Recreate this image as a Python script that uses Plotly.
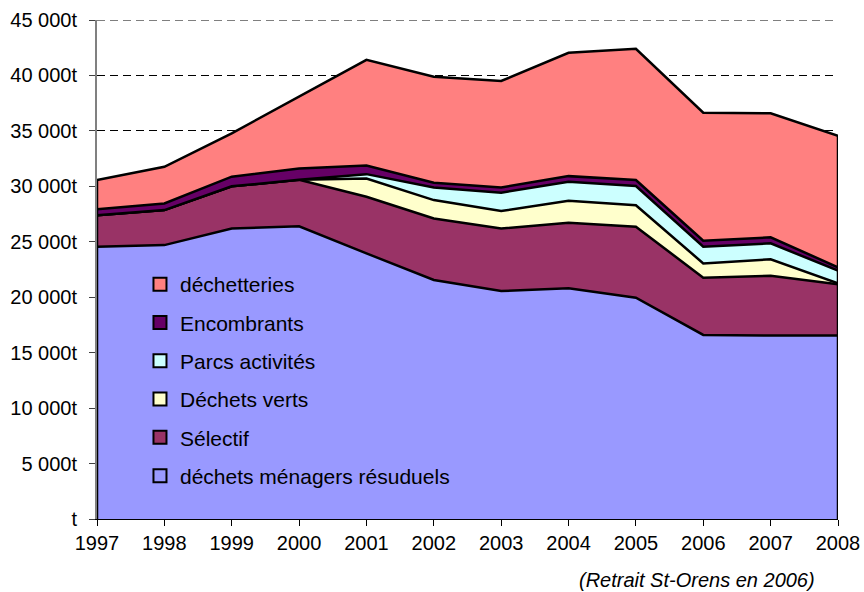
import plotly.graph_objects as go

years = [1997, 1998, 1999, 2000, 2001, 2002, 2003, 2004, 2005, 2006, 2007, 2008]

menagers_residuels = [24550, 24700, 26200, 26400, 23950, 21550, 20560, 20800, 19960, 16600, 16550, 16550]
selectif = [2850, 3160, 3800, 4200, 5110, 5550, 5640, 5920, 6400, 5160, 5390, 4610]
dechets_verts = [0, 0, 0, 0, 1640, 1660, 1570, 1980, 1940, 1290, 1480, 90]
parcs_activites = [0, 0, 0, 0, 400, 1140, 1660, 1720, 1730, 1510, 1440, 1150]
encombrants = [530, 600, 870, 1000, 780, 430, 470, 500, 540, 540, 540, 300]
decheteries = [2640, 3300, 3910, 6480, 9530, 9550, 9600, 11120, 11830, 11540, 11180, 11860]

series = [
    ("déchets ménagers résuduels", menagers_residuels, "#9999FF"),
    ("Sélectif", selectif, "#993366"),
    ("Déchets verts", dechets_verts, "#FFFFCC"),
    ("Parcs activités", parcs_activites, "#CCFFFF"),
    ("Encombrants", encombrants, "#660066"),
    ("déchetteries", decheteries, "#FF8080"),
]

ytick_vals = [0, 5000, 10000, 15000, 20000, 25000, 30000, 35000, 40000, 45000]
ytick_text = ["t", "5 000t", "10 000t", "15 000t", "20 000t", "25 000t", "30 000t", "35 000t", "40 000t", "45 000t"]

note = "(Retrait St-Orens en 2006)"

fig = go.Figure()
for name, vals, color in series:
    fig.add_trace(go.Scatter(
        x=years, y=vals, name=name, stackgroup="one", mode="lines",
        line=dict(color="black", width=2.5), fillcolor=color, showlegend=False,
        hoverinfo="skip",
    ))

totals = [sum(s[1][i] for s in series) for i in range(len(years))]
# vertical edges of the stacked area
for idx in (0, -1):
    fig.add_trace(go.Scatter(x=[years[idx], years[idx]], y=[0, totals[idx]], mode="lines",
                             line=dict(color="black", width=2.5), showlegend=False, hoverinfo="skip"))

# legend entries (square swatches), top to bottom
for i, (name, vals, color) in enumerate(reversed(series)):
    fig.add_trace(go.Scatter(
        x=[None], y=[None], mode="markers", name=name, legendgroup=f"g{i}",
        marker=dict(symbol="square", size=13, color=color, line=dict(color="black", width=2)),
    ))

fig.update_layout(
    width=864, height=592,
    margin=dict(l=97, r=26, t=20, b=73, autoexpand=False),
    paper_bgcolor="white", plot_bgcolor="white",
    font=dict(family="Liberation Sans, Arial, sans-serif", size=20, color="black"),
    legend=dict(x=0.058, y=0.511, xanchor="left", yanchor="top", bgcolor="rgba(0,0,0,0)",
                traceorder="grouped", tracegroupgap=8, font=dict(size=21), itemwidth=30),
    xaxis=dict(range=[years[0], years[-1]], tickvals=years, ticktext=[str(y) for y in years],
               showgrid=False, zeroline=False, showline=True, linecolor="black", linewidth=1,
               ticks="outside", ticklen=6, tickcolor="black", automargin=False),
    yaxis=dict(range=[0, 45000], tickvals=ytick_vals, ticktext=ytick_text,
               showgrid=True, gridcolor="black", gridwidth=1, griddash="8px,5px",
               zeroline=False, showline=True, linecolor="#808080", linewidth=2,
               ticks="outside", ticklen=6, tickcolor="#404040", ticklabelstandoff=8,
               automargin=False),
    shapes=[dict(type="line", xref="paper", yref="y", x0=0, x1=1, y0=ytick_vals[-1], y1=ytick_vals[-1],
                 line=dict(color="black", width=1, dash="8px,5px"), layer="below")],
    annotations=[dict(text=f"<i>{note}</i>", x=0.9717, y=-0.122, xref="paper", yref="paper",
                      xanchor="right", yanchor="middle", showarrow=False,
                      font=dict(size=20))],
)

fig.write_html("out.html", config={"displayModeBar": False},
               post_script="document.body.style.margin='0';")
